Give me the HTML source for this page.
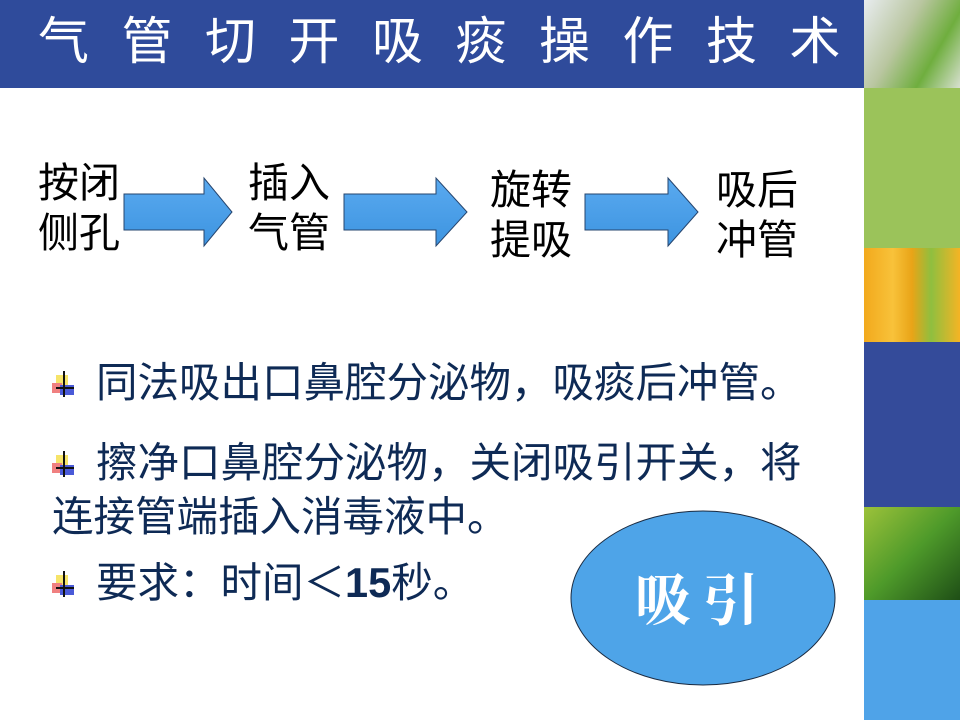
<!DOCTYPE html>
<html><head><meta charset="utf-8"><style>
body{margin:0;width:960px;height:720px;position:relative;overflow:hidden;background:#fff;font-family:"Liberation Sans","Noto Sans CJK SC",sans-serif}
.a{position:absolute}
.t{color:#000;font-size:41px;line-height:50px}
.b{color:#0e2a55;font-size:41.5px;line-height:54px;left:52px;white-space:nowrap}
.bi{display:inline-block;width:44px;height:30px;position:relative;vertical-align:-2px}
</style></head><body>
<div class="a" style="left:0;top:0;width:864px;height:88px;background:#2f4b9b"></div>
<div class="a" style="left:38px;top:10px;color:#fff;font-size:51px;letter-spacing:32.5px;line-height:64px;white-space:nowrap">气管切开吸痰操作技术</div>
<div class="a" style="left:864px;top:0;width:96px;height:88px;background:linear-gradient(120deg,#e8ecef 0%,#b9c6a0 40%,#6fae3e 70%,#d8e0d0 100%)"></div>
<div class="a" style="left:864px;top:88px;width:96px;height:160px;background:#9bc35a"></div>
<div class="a" style="left:864px;top:248px;width:96px;height:94px;background:linear-gradient(90deg,#f2a91c,#f8c23a 30%,#e9a417 50%,#8fbf3f 70%,#f5b424)"></div>
<div class="a" style="left:864px;top:342px;width:96px;height:165px;background:#344b9a"></div>
<div class="a" style="left:864px;top:507px;width:96px;height:93px;background:linear-gradient(135deg,#9cc23a,#4e9a2a 50%,#1e4e16)"></div>
<div class="a" style="left:864px;top:600px;width:96px;height:120px;background:#4fa3e8"></div>
<svg class="a" style="left:0;top:0" width="860" height="720">
<defs><linearGradient id="g" x1="0" y1="0" x2="0" y2="1"><stop offset="0" stop-color="#5aaaf0"/><stop offset="1" stop-color="#3d94e0"/></linearGradient></defs>
<path d="M124,194 H204 V178 L232,212 L204,246 V230 H124 Z" fill="url(#g)" stroke="#26456e" stroke-width="1"/>
<path d="M344,194 H436 V178 L467,212 L436,246 V230 H344 Z" fill="url(#g)" stroke="#26456e" stroke-width="1"/>
<path d="M585,194 H668 V178 L698,212 L668,246 V230 H585 Z" fill="url(#g)" stroke="#26456e" stroke-width="1"/>
<ellipse cx="703" cy="598" rx="132" ry="87" fill="#4ea4e8" stroke="#1a2a40" stroke-width="1"/>
<text x="703" y="620" font-size="56" fill="#fff" text-anchor="middle" font-weight="bold" font-family="Noto Serif CJK SC, serif" letter-spacing="12">吸引</text>
</svg>
<div class="a t" style="left:38px;top:158px">按闭<br>侧孔</div>
<div class="a t" style="left:248px;top:158px">插入<br>气管</div>
<div class="a t" style="left:490px;top:165px">旋转<br>提吸</div>
<div class="a t" style="left:716px;top:165px">吸后<br>冲管</div>
<div class="a b" style="top:356px"><span class="bi"><i class="a" style="left:4px;top:6px;width:12px;height:12px;background:#f6e46a"></i><i class="a" style="left:0;top:14px;width:10px;height:10px;background:#f08080"></i><i class="a" style="left:8px;top:16px;width:14px;height:10px;background:#4a5ad8"></i><i class="a" style="left:11px;top:2px;width:2px;height:26px;background:#111"></i><i class="a" style="left:4px;top:18px;width:18px;height:2px;background:#111"></i></span>同法吸出口鼻腔分泌物，吸痰后冲管。</div>
<div class="a b" style="top:436px"><span class="bi"><i class="a" style="left:4px;top:6px;width:12px;height:12px;background:#f6e46a"></i><i class="a" style="left:0;top:14px;width:10px;height:10px;background:#f08080"></i><i class="a" style="left:8px;top:16px;width:14px;height:10px;background:#4a5ad8"></i><i class="a" style="left:11px;top:2px;width:2px;height:26px;background:#111"></i><i class="a" style="left:4px;top:18px;width:18px;height:2px;background:#111"></i></span>擦净口鼻腔分泌物，关闭吸引开关，将<br>连接管端插入消毒液中。</div>
<div class="a b" style="top:556px"><span class="bi"><i class="a" style="left:4px;top:6px;width:12px;height:12px;background:#f6e46a"></i><i class="a" style="left:0;top:14px;width:10px;height:10px;background:#f08080"></i><i class="a" style="left:8px;top:16px;width:14px;height:10px;background:#4a5ad8"></i><i class="a" style="left:11px;top:2px;width:2px;height:26px;background:#111"></i><i class="a" style="left:4px;top:18px;width:18px;height:2px;background:#111"></i></span>要求：时间＜<b>15</b>秒。</div>
</body></html>
